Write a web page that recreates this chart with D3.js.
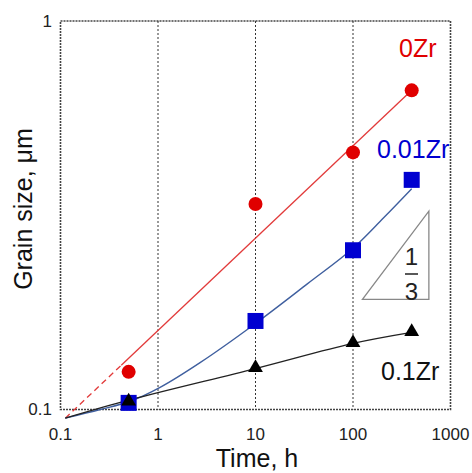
<!DOCTYPE html>
<html>
<head>
<meta charset="utf-8">
<script src="https://cdn.jsdelivr.net/npm/d3@7"></script>
<style>
  html, body { margin: 0; padding: 0; background: #fff; }
  svg { display: block; font-family: "Liberation Sans", Arial, sans-serif; }
</style>
</head>
<body>
<svg id="chart" width="472" height="473"></svg>
<script>
// Annealing time (h) and measured grain size (µm)
const times = [0.5, 10, 100, 400];
const zr0   = [0.125, 0.338, 0.459, 0.663];
const zr001 = [0.104, 0.169, 0.257, 0.39];
const zr01  = [0.105, 0.128, 0.1485, 0.1585];

// Fitted curves (time h, size µm)
const fit0X   = [0.112, 400];
const fit0Y   = [0.095, 0.663];
const fit0DashEnd = 0.42;           // extrapolated part drawn dashed
const fit001X = [0.112, 0.255, 0.52, 1.05, 2.7, 10, 34, 100, 205, 400];
const fit001Y = [0.095, 0.1, 0.105, 0.114, 0.132, 0.1665, 0.2105, 0.26, 0.311, 0.37];
const fit01X  = [0.112, 0.52, 10, 100, 400];
const fit01Y  = [0.095, 0.106, 0.1275, 0.148, 0.158];

// Slope guide (1/3)
const slopeX = [125, 600];
const slopeBase = 0.192;
const slopeValue = 1 / 3;

const xTicks = [0.1, 1, 10, 100, 1000];
const yTicks = [0.1, 1];
const xGrid = [1, 10, 100];

const svg = d3.select("#chart");
const L = 60.5, R = 450.5, T = 21, B = 409.5;

const x = d3.scaleLog().domain([0.1, 1000]).range([L, R]);
const y = d3.scaleLog().domain([0.1, 1]).range([B, T]);

// Vertical grid
svg.append("g").selectAll("line").data(xGrid).join("line")
  .attr("x1", d => x(d)).attr("x2", d => x(d))
  .attr("y1", T).attr("y2", B)
  .attr("stroke", "#333").attr("stroke-width", 1)
  .attr("stroke-dasharray", "2,2");

// Frame
svg.append("rect")
  .attr("x", L).attr("y", T).attr("width", R - L).attr("height", B - T)
  .attr("fill", "none").attr("stroke", "#444").attr("stroke-width", 1.6)
  .attr("stroke-dasharray", "2,1");

// Tick labels
svg.append("g").selectAll("text").data(xTicks).join("text")
  .attr("x", d => x(d)).attr("y", 440)
  .attr("text-anchor", "middle").attr("font-size", 17).attr("fill", "#222")
  .text(d => d3.format("~g")(d));
svg.append("g").selectAll("text").data(yTicks).join("text")
  .attr("x", 52).attr("y", d => y(d)).attr("dy", "0.35em")
  .attr("text-anchor", "end").attr("font-size", 17).attr("fill", "#222")
  .text(d => d3.format("~g")(d));

// Axis titles
svg.append("text").attr("x", 257).attr("y", 467)
  .attr("text-anchor", "middle").attr("font-size", 25).attr("fill", "#111")
  .text("Time, h");
svg.append("text")
  .attr("transform", "translate(32,209) rotate(-90)")
  .attr("text-anchor", "middle").attr("font-size", 25).attr("fill", "#111")
  .text("Grain size, μm");

// Slope triangle
const slopeTop = slopeBase * Math.pow(slopeX[1] / slopeX[0], slopeValue);
svg.append("path")
  .attr("d", d3.line()([
    [x(slopeX[0]), y(slopeBase)],
    [x(slopeX[1]), y(slopeBase)],
    [x(slopeX[1]), y(slopeTop)]
  ]) + "Z")
  .attr("fill", "none").attr("stroke", "#888").attr("stroke-width", 1.3);
svg.append("text").attr("x", 411.5).attr("y", 265)
  .attr("text-anchor", "middle").attr("font-size", 24).attr("fill", "#222").text("1");
svg.append("line").attr("x1", 405).attr("x2", 418).attr("y1", 274).attr("y2", 274)
  .attr("stroke", "#222").attr("stroke-width", 1.5);
svg.append("text").attr("x", 411.5).attr("y", 300)
  .attr("text-anchor", "middle").attr("font-size", 24).attr("fill", "#222").text("3");

// Fitted lines
const pts = (xs, ys) => xs.map((v, i) => [x(v), y(ys[i])]);
const straight = d3.line();
const smooth = d3.line().curve(d3.curveCatmullRom.alpha(0.5));

// 0Zr: power law between the two fit points
const k0 = Math.log(fit0Y[1] / fit0Y[0]) / Math.log(fit0X[1] / fit0X[0]);
const yAt0 = t => fit0Y[0] * Math.pow(t / fit0X[0], k0);
svg.append("path")
  .attr("d", straight(pts([fit0X[0], fit0DashEnd], [fit0Y[0], yAt0(fit0DashEnd)])))
  .attr("fill", "none").attr("stroke", "#e23a3a").attr("stroke-width", 1.3)
  .attr("stroke-dasharray", "6,4");
svg.append("path")
  .attr("d", straight(pts([fit0DashEnd, fit0X[1]], [yAt0(fit0DashEnd), fit0Y[1]])))
  .attr("fill", "none").attr("stroke", "#e23a3a").attr("stroke-width", 1.3);

svg.append("path").attr("d", smooth(pts(fit001X, fit001Y)))
  .attr("fill", "none").attr("stroke", "#3f5f9f").attr("stroke-width", 1.4);
svg.append("path").attr("d", smooth(pts(fit01X, fit01Y)))
  .attr("fill", "none").attr("stroke", "#222").attr("stroke-width", 1.3);

// Markers
svg.append("g").selectAll("circle").data(times).join("circle")
  .attr("cx", d => x(d)).attr("cy", (d, i) => y(zr0[i])).attr("r", 7)
  .attr("fill", "#e00000");
svg.append("g").selectAll("rect").data(times).join("rect")
  .attr("x", d => x(d) - 8).attr("y", (d, i) => y(zr001[i]) - 8)
  .attr("width", 16).attr("height", 16).attr("fill", "#0000d0");
const tri = d3.symbol().type(d3.symbolTriangle).size(95);
svg.append("g").selectAll("path").data(times).join("path")
  .attr("transform", (d, i) => `translate(${x(d)},${y(zr01[i])})`)
  .attr("d", tri).attr("fill", "#000");

// Series labels
svg.append("text").attr("x", 399).attr("y", 57).attr("font-size", 25)
  .attr("fill", "#e00000").text("0Zr");
svg.append("text").attr("x", 377).attr("y", 158).attr("font-size", 25)
  .attr("fill", "#0000d0").text("0.01Zr");
svg.append("text").attr("x", 381).attr("y", 380).attr("font-size", 25)
  .attr("fill", "#111").text("0.1Zr");
</script>
</body>
</html>
